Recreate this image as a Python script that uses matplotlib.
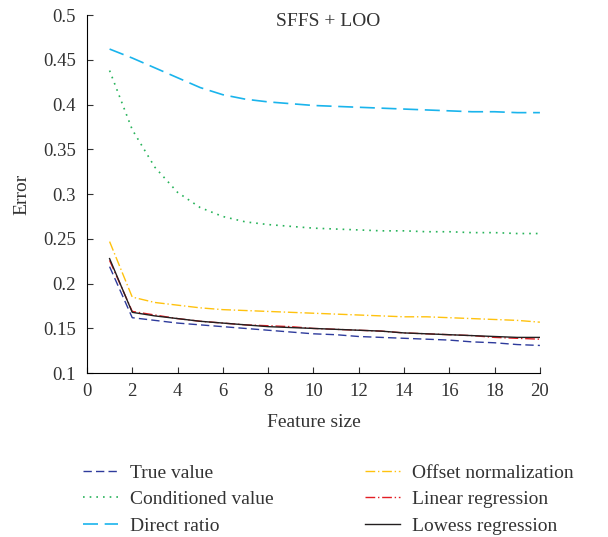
import matplotlib
matplotlib.use("Agg")
import matplotlib.pyplot as plt

plt.rcParams["font.family"] = ["Liberation Serif", "DejaVu Serif"]

feature_size = list(range(1, 21))

true_value = [0.219, 0.162, 0.159, 0.156, 0.154, 0.152, 0.150, 0.148, 0.146, 0.144,
              0.143, 0.141, 0.140, 0.139, 0.138, 0.137, 0.135, 0.134, 0.132, 0.131]
conditioned_value = [0.438, 0.372, 0.330, 0.302, 0.285, 0.275, 0.269, 0.266, 0.264, 0.262,
                     0.261, 0.260, 0.259, 0.259, 0.258, 0.258, 0.257, 0.257, 0.256, 0.256]
direct_ratio = [0.462, 0.452, 0.441, 0.430, 0.419, 0.411, 0.406, 0.403, 0.401, 0.399,
                0.398, 0.397, 0.396, 0.395, 0.394, 0.393, 0.392, 0.392, 0.391, 0.391]
offset_norm = [0.247, 0.185, 0.179, 0.176, 0.173, 0.171, 0.170, 0.169, 0.168, 0.167,
               0.166, 0.165, 0.164, 0.163, 0.163, 0.162, 0.161, 0.160, 0.159, 0.157]
linear_reg = [0.226, 0.169, 0.165, 0.161, 0.158, 0.156, 0.154, 0.153, 0.152, 0.150,
              0.149, 0.148, 0.147, 0.145, 0.144, 0.143, 0.142, 0.140, 0.139, 0.138]
lowess_reg = [0.228, 0.168, 0.164, 0.161, 0.158, 0.156, 0.154, 0.152, 0.151, 0.150,
              0.149, 0.148, 0.147, 0.145, 0.144, 0.143, 0.142, 0.141, 0.140, 0.140]

TXT = "#333333"

fig = plt.figure(figsize=(6.08, 5.37), dpi=100)
ax = fig.add_axes([0.143, 0.305, 0.745, 0.667])

ax.plot(feature_size, true_value, color="#2e3b9c", ls=(0, (6, 3)), lw=1.0, label="True value")
ax.plot(feature_size, conditioned_value, color="#27b35a", ls=(0, (1, 3)), lw=1.2, label="Conditioned value")
ax.plot(feature_size, direct_ratio, color="#1ab4ec", ls=(0, (9, 4)), lw=1.2, label="Direct ratio")
ax.plot(feature_size, offset_norm, color="#ffc20e", ls=(0, (7, 2, 1, 2)), lw=1.0, label="Offset normalization")
ax.plot(feature_size, linear_reg, color="#e31e24", ls=(0, (7, 2, 1, 2)), lw=1.0, label="Linear regression")
ax.plot(feature_size, lowess_reg, color="#231f20", ls="-", lw=1.0, label="Lowess regression")

ax.set_xlim(0, 20)
ax.set_ylim(0.1, 0.5)
ax.set_xticks(range(0, 21, 2))
ax.set_yticks([0.1, 0.15, 0.2, 0.25, 0.3, 0.35, 0.4, 0.45, 0.5])
ax.set_yticklabels(["0.1", "0.15", "0.2", "0.25", "0.3", "0.35", "0.4", "0.45", "0.5"])
ax.spines["top"].set_visible(False)
ax.spines["right"].set_visible(False)
ax.tick_params(direction="in", length=4, labelsize=13.5, colors=TXT)
ax.tick_params(axis="y", pad=8)
ax.tick_params(axis="x", pad=7)
ax.set_xlabel("Feature size", fontsize=14, color=TXT, labelpad=10)
ax.set_ylabel("Error", fontsize=14, color=TXT, labelpad=9)
ax.text(0.533, 1.005, "SFFS + LOO", transform=ax.transAxes, ha="center", va="top",
        fontsize=14, color=TXT)

handles, labels = ax.get_legend_handles_labels()
fig.legend(handles, labels, loc="upper left", bbox_to_anchor=(0.108, 0.168), ncol=2,
           frameon=False, fontsize=14, handlelength=1.8, handletextpad=0.6,
           columnspacing=4.7, labelspacing=0.45, labelcolor=TXT)

fig.savefig("out.png", dpi=100)
